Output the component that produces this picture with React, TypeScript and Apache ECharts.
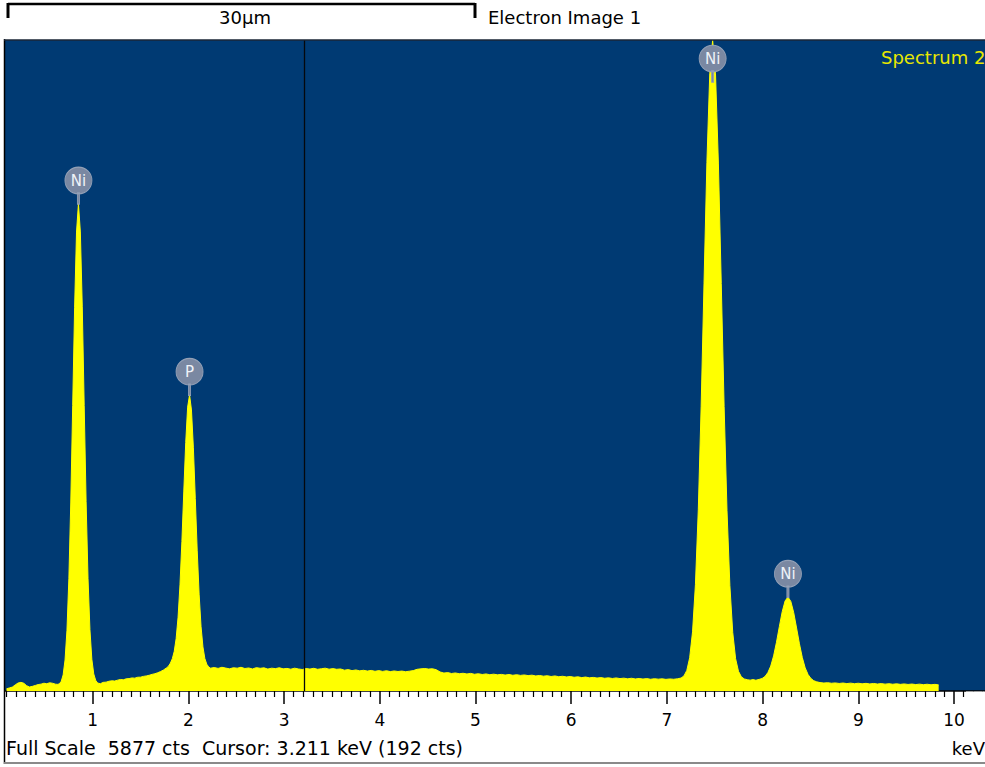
import React, { useEffect, useRef } from "react";
import * as echarts from "echarts";

// ---- Data ----
const FULL_SCALE = 5877; // cts
const CURSOR_KEV = 3.211;
const CURSOR_CTS = 192;
const X_MIN = 0;
const X_MAX = 10.324;
const TICK_LABELS = ["1", "2", "3", "4", "5", "6", "7", "8", "9", "10"];

type Pt = [number, number];

const lowBackground: Pt[] = [
  [0.1, 20], [0.13, 28], [0.16, 35], [0.19, 55], [0.22, 72], [0.25, 78], [0.28, 70],
  [0.31, 48], [0.34, 36], [0.37, 42], [0.4, 50], [0.43, 58], [0.46, 62], [0.49, 70],
  [0.52, 66], [0.55, 74], [0.58, 70], [0.61, 62], [0.63, 60],
];

const niLPeak: Pt[] = [
  [0.651, 64], [0.671, 87], [0.691, 145], [0.711, 280], [0.731, 548], [0.751, 1013],
  [0.771, 1706], [0.791, 2576], [0.811, 3465], [0.831, 4143], [0.851, 4400],
  [0.871, 4144], [0.891, 3468], [0.911, 2579], [0.931, 1711], [0.951, 1018],
  [0.971, 555], [0.991, 287], [1.011, 154], [1.031, 97], [1.051, 72],
];

const preP: Pt[] = [
  [1.08, 66], [1.11, 78], [1.14, 80], [1.17, 88], [1.2, 92], [1.23, 90], [1.26, 98],
  [1.29, 104], [1.32, 101], [1.35, 110], [1.38, 112], [1.41, 118], [1.44, 116],
  [1.47, 124], [1.5, 125], [1.53, 132], [1.56, 136], [1.59, 142], [1.62, 150],
  [1.65, 156], [1.68, 165], [1.71, 176], [1.74, 190], [1.77, 208], [1.79, 222],
];

const pPeak: Pt[] = [
  [1.812, 252], [1.832, 292], [1.852, 358], [1.872, 474], [1.892, 666], [1.912, 958],
  [1.932, 1350], [1.952, 1805], [1.972, 2244], [1.992, 2563], [2.012, 2674],
  [2.032, 2537], [2.052, 2195], [2.072, 1738], [2.092, 1271], [2.112, 874],
  [2.132, 584], [2.152, 398], [2.172, 293], [2.192, 242], [2.212, 217], [2.232, 206],
];

const midBackground: Pt[] = [
  [2.27, 212], [2.31, 204], [2.35, 214], [2.39, 207], [2.43, 200], [2.47, 210], [2.51, 206],
  [2.55, 214], [2.59, 203], [2.63, 208], [2.67, 199], [2.71, 211], [2.75, 205], [2.79, 209],
  [2.83, 198], [2.87, 206], [2.91, 202], [2.95, 210], [2.99, 200], [3.03, 204], [3.07, 197],
  [3.11, 206], [3.15, 199], [3.19, 194], [3.23, 203], [3.27, 198], [3.31, 205], [3.35, 196],
  [3.39, 201], [3.43, 206], [3.47, 197], [3.51, 202], [3.55, 196], [3.59, 199], [3.63, 188],
  [3.67, 193], [3.71, 184], [3.75, 190], [3.79, 182], [3.83, 187], [3.87, 180], [3.91, 186],
  [3.95, 178], [3.99, 184], [4.03, 177], [4.07, 183], [4.11, 175], [4.15, 181], [4.19, 176],
  [4.23, 180], [4.27, 174], [4.31, 179], [4.35, 184], [4.39, 196], [4.43, 200], [4.47, 203],
  [4.51, 198], [4.55, 201], [4.59, 192], [4.63, 172], [4.67, 162], [4.71, 166], [4.75, 158],
  [4.79, 163], [4.83, 156], [4.87, 160], [4.91, 154], [4.95, 159], [4.99, 151], [5.03, 156],
  [5.07, 149], [5.11, 154], [5.15, 147], [5.19, 152], [5.23, 146], [5.27, 150], [5.31, 144],
  [5.35, 149], [5.39, 142], [5.43, 147], [5.47, 141], [5.51, 145], [5.55, 139], [5.59, 143],
  [5.63, 136], [5.67, 140], [5.71, 134], [5.75, 138], [5.79, 131], [5.83, 136], [5.87, 129],
  [5.91, 133], [5.95, 127], [5.99, 131], [6.03, 124], [6.07, 128], [6.11, 121], [6.15, 126],
  [6.19, 119], [6.23, 123], [6.27, 117], [6.31, 121], [6.35, 115], [6.39, 119], [6.43, 113],
  [6.47, 118], [6.51, 112], [6.55, 116], [6.59, 110], [6.63, 115], [6.67, 109], [6.71, 113],
  [6.75, 108], [6.79, 112], [6.83, 106], [6.87, 111], [6.91, 107], [6.95, 110], [6.99, 105],
  [7.03, 109], [7.07, 106], [7.11, 110],
];

const niKaPeak: Pt[] = [
  [7.148, 117], [7.178, 136], [7.208, 186], [7.238, 300], [7.268, 534], [7.298, 959],
  [7.328, 1635], [7.358, 2571], [7.388, 3682], [7.418, 4770], [7.448, 5576], [7.478, 5877],
  [7.508, 5572], [7.538, 4766], [7.568, 3678], [7.598, 2567], [7.628, 1631], [7.658, 953],
  [7.688, 528], [7.718, 292], [7.748, 178], [7.778, 128], [7.808, 109],
];

const betweenK: Pt[] = [
  [7.84, 102], [7.87, 98], [7.9, 103], [7.93, 97],
];

const niKbPeak: Pt[] = [
  [7.965, 105], [7.995, 113], [8.025, 131], [8.055, 166], [8.085, 225], [8.115, 317],
  [8.145, 440], [8.175, 581], [8.205, 716], [8.235, 813], [8.265, 849], [8.295, 809],
  [8.325, 708], [8.355, 569], [8.385, 426], [8.415, 302], [8.445, 209], [8.475, 149],
  [8.505, 113], [8.535, 93], [8.565, 83],
];

const highBackground: Pt[] = [
  [8.6, 76], [8.64, 72], [8.68, 75], [8.72, 70], [8.76, 73], [8.8, 68], [8.84, 72],
  [8.88, 67], [8.92, 71], [8.96, 66], [9.0, 70], [9.04, 65], [9.08, 69], [9.12, 64],
  [9.16, 68], [9.2, 63], [9.24, 67], [9.28, 62], [9.32, 66], [9.36, 61], [9.4, 65],
  [9.44, 60], [9.48, 64], [9.52, 59], [9.56, 63], [9.6, 58], [9.64, 62], [9.68, 57],
  [9.72, 61], [9.76, 56], [9.8, 60], [9.84, 55],
];

const peakLabelNames = ["Ni", "P", "Ni", "Ni"];
const peakLabelKeV = [0.851, 2.012, 7.478, 8.265];
const peakLabelCts = [4400, 2674, 5500, 849];

const spectrum: Pt[] = [
  ...lowBackground, ...niLPeak, ...preP, ...pPeak, ...midBackground,
  ...niKaPeak, ...betweenK, ...niKbPeak, ...highBackground,
];

const FONT = "DejaVu Sans, Liberation Sans, Arial, sans-serif";
const PIN =
  "path://M0,13 C0,5.82 5.82,0 13,0 C20.18,0 26,5.82 26,13 C26,20.18 20.18,26 13,26 C5.82,26 0,20.18 0,13 Z M12,25 L14,25 L14,36 L12,36 Z";

export default function App() {
  const ref = useRef<HTMLDivElement>(null);

  useEffect(() => {
    if (!ref.current) return;
    const chart = echarts.init(ref.current, null, { renderer: "svg" });
    chart.setOption({
      animation: false,
      backgroundColor: "#ffffff",
      grid: {
        left: -3,
        right: 0,
        top: 40,
        bottom: 76,
        containLabel: false,
        outerBoundsMode: "none",
        show: true,
        backgroundColor: "#003a73",
        borderWidth: 0,
      },
      xAxis: {
        type: "value",
        min: X_MIN,
        max: X_MAX,
        interval: 1,
        axisLine: { show: true, lineStyle: { color: "#000000", width: 1.5 } },
        axisTick: { show: true, inside: false, length: 13, lineStyle: { color: "#000000", width: 1.5 } },
        minorTick: { show: true, splitNumber: 10, length: 6, lineStyle: { color: "#000000", width: 1.2 } },
        splitLine: { show: false },
        axisLabel: {
          show: true,
          margin: 20,
          color: "#000000",
          fontSize: 17,
          fontFamily: FONT,
          formatter: (v: number) => (TICK_LABELS.includes(String(v)) ? String(v) : ""),
        },
      },
      yAxis: {
        type: "value",
        min: 0,
        max: FULL_SCALE,
        show: false,
        splitLine: { show: false },
      },
      series: [
        {
          type: "line",
          data: spectrum,
          symbol: "none",
          showSymbol: false,
          smooth: false,
          lineStyle: { color: "#ffff00", width: 1 },
          areaStyle: { color: "#ffff00", opacity: 1 },
          markLine: {
            silent: true,
            symbol: ["none", "none"],
            label: { show: false },
            lineStyle: { color: "#05080d", width: 1.3, type: "solid" },
            data: [{ xAxis: CURSOR_KEV }],
          },
          markPoint: {
            silent: true,
            symbol: PIN,
            symbolSize: [27, 37],
            symbolKeepAspect: false,
            symbolOffset: [0, -18],
            itemStyle: { color: "#7a88a2", borderColor: "#93a0b6", borderWidth: 1 },
            label: {
              show: true,
              position: "inside",
              offset: [0, -5],
              formatter: "{b}",
              color: "#eef2f8",
              fontSize: 15,
              fontFamily: FONT,
            },
            data: peakLabelNames.map((n, i) => ({
              name: n,
              coord: [peakLabelKeV[i], peakLabelCts[i]],
            })),
          },
        },
      ],
      graphic: [
        // scale bar
        { type: "line", shape: { x1: 8, y1: 4, x2: 475, y2: 4 }, style: { stroke: "#000", lineWidth: 2.5 } },
        { type: "line", shape: { x1: 8, y1: 3, x2: 8, y2: 18 }, style: { stroke: "#000", lineWidth: 3 } },
        { type: "line", shape: { x1: 475, y1: 3, x2: 475, y2: 18 }, style: { stroke: "#000", lineWidth: 3 } },
        {
          type: "text", x: 245, y: 17,
          style: { text: "30μm", fill: "#000", font: `18px ${FONT}`, textAlign: "center", textVerticalAlign: "middle" },
        },
        {
          type: "text", x: 488, y: 17,
          style: { text: "Electron Image 1", fill: "#000", font: `18px ${FONT}`, textAlign: "left", textVerticalAlign: "middle" },
        },
        // frame pieces
        { type: "rect", shape: { x: 0, y: 38, width: 4, height: 730 }, style: { fill: "#ffffff" }, z: 100 },
        { type: "rect", shape: { x: 966, y: 691.5, width: 20, height: 22 }, style: { fill: "#ffffff" }, z: 100 },
        { type: "line", shape: { x1: 4.5, y1: 39, x2: 4.5, y2: 764 }, style: { stroke: "#000", lineWidth: 1.5 }, z: 101 },
        { type: "line", shape: { x1: 4, y1: 40, x2: 985, y2: 40 }, style: { stroke: "#1b2636", lineWidth: 1.5 }, z: 101 },
        { type: "line", shape: { x1: 4, y1: 763, x2: 985, y2: 763 }, style: { stroke: "#8a8a8a", lineWidth: 2 }, z: 101 },
        {
          type: "text", x: 881, y: 57, z: 101,
          style: { text: "Spectrum 2", fill: "#e8e800", font: `18px ${FONT}`, textAlign: "left", textVerticalAlign: "middle" },
        },
        {
          type: "text", x: 6, y: 748, z: 101,
          style: {
            text: `Full Scale  ${FULL_SCALE} cts  Cursor: ${CURSOR_KEV.toFixed(3)} keV (${CURSOR_CTS} cts)`,
            fill: "#000", font: `19px ${FONT}`, textAlign: "left", textVerticalAlign: "middle",
          },
        },
        {
          type: "text", x: 985, y: 748, z: 101,
          style: { text: "keV", fill: "#000", font: `18px ${FONT}`, textAlign: "right", textVerticalAlign: "middle" },
        },
      ],
    });
    return () => chart.dispose();
  }, []);

  return (
    <div
      ref={ref}
      style={{ position: "absolute", left: 0, top: 0, width: 985, height: 767, background: "#fff" }}
    />
  );
}
